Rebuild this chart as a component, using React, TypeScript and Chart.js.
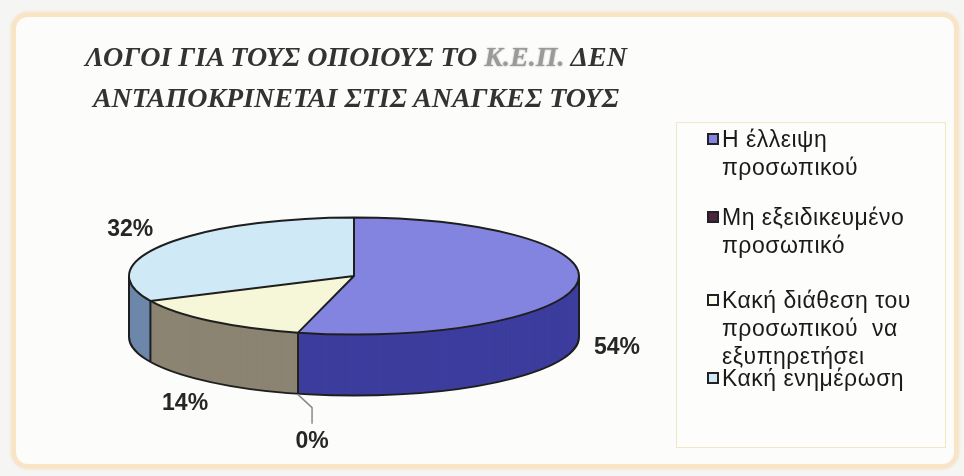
import React, { useEffect, useRef } from 'react';
import { Chart, registerables } from 'chart.js';

Chart.register(...registerables);

// ---- data ----
const TITLE_LINE_1 = 'ΛΟΓΟΙ ΓΙΑ ΤΟΥΣ ΟΠΟΙΟΥΣ ΤΟ Κ.Ε.Π. ΔΕΝ';
const TITLE_BLURRED = 'Κ.Ε.Π.';
const TITLE_LINE_2 = 'ΑΝΤΑΠΟΚΡΙΝΕΤΑΙ ΣΤΙΣ ΑΝΑΓΚΕΣ ΤΟΥΣ';

const categories: string[][] = [
  ['Η έλλειψη', 'προσωπικού'],
  ['Μη εξειδικευμένο', 'προσωπικό'],
  ['Κακή διάθεση του', 'προσωπικού  να', 'εξυπηρετήσει'],
  ['Κακή ενημέρωση'],
];
const values: number[] = [54, 0, 14, 32];

// ---- styles ----
const topColors = ['#8383e0', '#5a2648', '#f6f6d8', '#cfeaf6'];
const sideColors = ['#3d3d9e', '#3a1830', '#8c8472', '#6d87aa'];
const legendColors = ['#8383e0', '#4e2340', '#fbfbf0', '#cfeaf6'];
const OUTLINE = '#1e1e1e';

// ---- 3D layout ----
const PIE_CY = 276; // screen y of the pie top-face centre
const TILT = 0.26; // vertical squash of the top face
const DEPTH = 61; // thickness of the pie
const LABEL_OX = 40;
const LABEL_OY = 28;
const LEADER_DX = 14;
const LEADER_DY = 14;
const LEADER_DOWN = 16;
const ITEM_GAPS = [22, 27, -6];

const pie3d = {
  id: 'pie3d',
  beforeDatasetsDraw(chart: any) {
    const ctx = chart.ctx;
    const arcs = chart.getDatasetMeta(0).data as any[];
    if (!arcs.length) return;
    const cx = arcs[0].x;
    const cy = arcs[0].y;
    const apply = (dy: number) => {
      ctx.translate(cx, PIE_CY + dy);
      ctx.scale(1, TILT);
      ctx.translate(-cx, -cy);
    };
    for (let d = DEPTH; d >= 1; d--) {
      ctx.save();
      apply(d);
      arcs.forEach((arc: any, i: number) => {
        const o = arc.options;
        arc.options = { ...o, backgroundColor: sideColors[i], borderWidth: 0 };
        arc.draw(ctx);
        arc.options = o;
      });
      ctx.restore();
    }
    ctx.save();
    apply(0);
  },
  afterDatasetsDraw(chart: any) {
    const ctx = chart.ctx;
    const arcs = chart.getDatasetMeta(0).data as any[];
    if (!arcs.length) return;
    ctx.restore();
    const cx = arcs[0].x;
    const cy = arcs[0].y;
    const r = arcs[0].outerRadius;
    const apply = (dy: number) => {
      ctx.translate(cx, PIE_CY + dy);
      ctx.scale(1, TILT);
      ctx.translate(-cx, -cy);
    };
    ctx.save();
    ctx.strokeStyle = OUTLINE;
    ctx.lineWidth = 2;
    ctx.lineJoin = 'round';
    // bottom outline
    ctx.save();
    apply(DEPTH);
    ctx.beginPath();
    ctx.arc(cx, cy, r, 0, Math.PI);
    ctx.restore();
    ctx.stroke();
    // vertical edges
    const angles = [0, Math.PI];
    arcs.forEach((arc: any) => {
      const TAU = Math.PI * 2;
      const a = ((arc.startAngle % TAU) + TAU) % TAU;
      if (a > 0 && a < Math.PI) angles.push(a);
    });
    ctx.beginPath();
    angles.forEach((a) => {
      const x = cx + r * Math.cos(a);
      const y = PIE_CY + TILT * r * Math.sin(a);
      ctx.moveTo(x, y);
      ctx.lineTo(x, y + DEPTH);
    });
    ctx.stroke();
    // top face outlines
    ctx.save();
    apply(0);
    ctx.beginPath();
    arcs.forEach((arc: any) => {
      if (arc.circumference <= 0) return;
      ctx.moveTo(cx, cy);
      ctx.arc(cx, cy, r, arc.startAngle, arc.endAngle);
      ctx.closePath();
    });
    ctx.restore();
    ctx.stroke();

    // labels
    ctx.font = 'bold 23px "Liberation Sans", Arial, sans-serif';
    ctx.fillStyle = '#262626';
    ctx.textAlign = 'center';
    ctx.textBaseline = 'middle';
    arcs.forEach((arc: any, i: number) => {
      const v = values[i];
      const mid = (arc.startAngle + arc.endAngle) / 2;
      const c = Math.cos(mid);
      const s = Math.sin(mid);
      const text = `${v}%`;
      if (v === 0) {
        const x0 = cx + r * c;
        const y0 = PIE_CY + TILT * r * s + (s > 0 ? DEPTH : 0);
        ctx.save();
        ctx.strokeStyle = '#8a8a8a';
        ctx.lineWidth = 1.5;
        ctx.beginPath();
        ctx.moveTo(x0, y0 + 1);
        ctx.lineTo(x0 + LEADER_DX, y0 + LEADER_DY);
        ctx.lineTo(x0 + LEADER_DX, y0 + LEADER_DY + LEADER_DOWN);
        ctx.stroke();
        ctx.restore();
        ctx.fillText(text, x0 + LEADER_DX, y0 + LEADER_DY + LEADER_DOWN + 18);
      } else {
        const x = cx + (r + LABEL_OX) * c;
        const y = PIE_CY + (TILT * r + LABEL_OY) * s + (s > 0 ? DEPTH : 0);
        ctx.fillText(text, x, y);
      }
    });
    ctx.restore();
  },
};

export default function App() {
  const ref = useRef<HTMLCanvasElement>(null);
  useEffect(() => {
    const canvas = ref.current;
    if (!canvas) return;
    const chart = new Chart(canvas, {
      type: 'pie',
      data: {
        labels: categories.map((c) => c.join(' ')),
        datasets: [
          {
            data: values,
            backgroundColor: topColors,
            borderWidth: 0,
            clip: false as any,
          } as any,
        ],
      },
      options: {
        responsive: false,
        animation: false,
        devicePixelRatio: 1,
        events: [],
        layout: { padding: { left: 129, right: 385, top: 8, bottom: 8 } },
        plugins: { legend: { display: false }, tooltip: { enabled: false }, title: { display: false } },
      } as any,
      plugins: [pie3d as any],
    });
    return () => chart.destroy();
  }, []);

  const [t1a, t1b] = TITLE_LINE_1.split(TITLE_BLURRED);

  return (
    <div
      style={{
        position: 'fixed',
        left: 0,
        top: 0,
        width: 964,
        height: 476,
        background: '#f5f5f3',
        overflow: 'hidden',
      }}
    >
      <div
        style={{
          position: 'absolute',
          left: 12,
          top: 13,
          width: 946,
          height: 455,
          boxSizing: 'border-box',
          border: '4px solid #f9e5c6',
          borderRadius: 16,
          boxShadow: '0 0 3px 1px #f3dfc2',
          background: '#fcfcfa',
        }}
      />
      <div
        style={{
          position: 'absolute',
          left: 676,
          top: 122,
          width: 270,
          height: 326,
          boxSizing: 'border-box',
          border: '1.5px solid #efe7c8',
          background: '#fdfdfb',
        }}
      />
      <canvas ref={ref} width={964} height={476} style={{ position: 'absolute', left: 0, top: 0 }} />
      <div
        style={{
          position: 'absolute',
          left: 56,
          top: 36,
          width: 600,
          textAlign: 'center',
          font: 'italic bold 28px "Liberation Serif", "DejaVu Serif", serif',
          lineHeight: '41px',
          color: '#333',
          whiteSpace: 'pre',
        }}
      >
        <div>
          {t1a}
          <span style={{ color: '#9a9a9a', textShadow: '0 0 2px #aaa' }}>{TITLE_BLURRED}</span>
          {t1b}
        </div>
        <div>{TITLE_LINE_2}</div>
      </div>
      <div
        style={{
          position: 'absolute',
          left: 707,
          top: 125,
          font: '23px "Liberation Sans", Arial, sans-serif',
          letterSpacing: '0.5px',
          lineHeight: '28px',
          color: '#1a1a1a',
          whiteSpace: 'pre',
        }}
      >
        {categories.map((lines, i) => (
          <div
            key={i}
            style={{ position: 'relative', paddingLeft: 15, marginBottom: i < ITEM_GAPS.length ? ITEM_GAPS[i] : 0 }}
          >
            <span
              style={{
                position: 'absolute',
                left: 0,
                top: 8,
                width: 12,
                height: 12,
                boxSizing: 'border-box',
                border: '2px solid #222',
                background: legendColors[i],
              }}
            />
            {lines.map((l, j) => (
              <div key={j}>{l}</div>
            ))}
          </div>
        ))}
      </div>
    </div>
  );
}
